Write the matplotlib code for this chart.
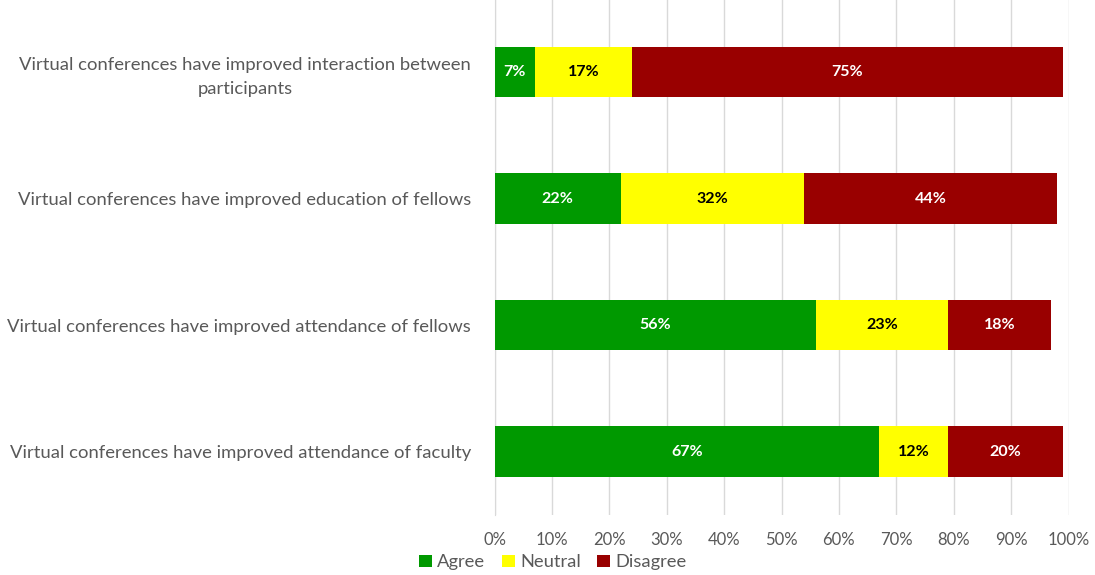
import matplotlib
matplotlib.use("Agg")
import matplotlib.pyplot as plt
import numpy as np

plt.rcParams["font.family"] = ["Lato", "DejaVu Sans"]

categories = ["Virtual conferences have improved attendance of faculty",
              "Virtual conferences have improved attendance of fellows",
              "Virtual conferences have improved education of fellows",
              "Virtual conferences have improved interaction between\nparticipants"]
agree = [67, 56, 22, 7]
neutral = [12, 23, 32, 17]
disagree = [20, 18, 44, 75]
series = ["Agree", "Neutral", "Disagree"]
colors = ["#009900", "#FFFF00", "#990000"]
text_colors = ["white", "black", "white"]

fig = plt.figure(figsize=(10.95, 5.75), dpi=100)
ax = fig.add_axes([0.4516, 0.1043, 0.5242, 0.8957])

y = np.arange(len(categories))
left = np.zeros(len(categories))
for name, vals, col, tc in zip(series, [agree, neutral, disagree], colors, text_colors):
    bars = ax.barh(y, vals, left=left, height=0.4, color=col, label=name, zorder=3)
    for b, v in zip(bars, vals):
        ax.text(b.get_x() + b.get_width() / 2, b.get_y() + b.get_height() / 2, f"{v}%",
                ha="center", va="center", color=tc, fontsize=11.5, fontweight="bold", zorder=4)
    left += np.array(vals)

ax.set_xlim(0, 100)
ax.set_ylim(-0.5, 3.568)
ax.set_xticks(np.arange(0, 101, 10))
ax.set_xticklabels([f"{t}%" for t in range(0, 101, 10)])
ax.set_yticks(y)
ax.set_yticklabels(categories)
for lab in ax.get_yticklabels():
    lab.set_multialignment("center")
    lab.set_linespacing(1.55)
ax.tick_params(axis="both", length=0, colors="#595959", labelsize=13.3)
ax.tick_params(axis="y", pad=17)
ax.tick_params(axis="x", pad=12, labelsize=12)
ax.xaxis.grid(True, color="#D9D9D9", linewidth=1, zorder=0)
for s in ["top", "right", "bottom"]:
    ax.spines[s].set_visible(False)
ax.spines["left"].set_color("#D9D9D9")

ax.legend(loc="center", bbox_to_anchor=(0.505, 0.022), bbox_transform=fig.transFigure, ncol=3,
          frameon=False, fontsize=13.2, handlelength=0.7, handleheight=0.7, handletextpad=0.3,
          columnspacing=0.9, labelcolor="#595959")

fig.savefig("out.png", dpi=100)
